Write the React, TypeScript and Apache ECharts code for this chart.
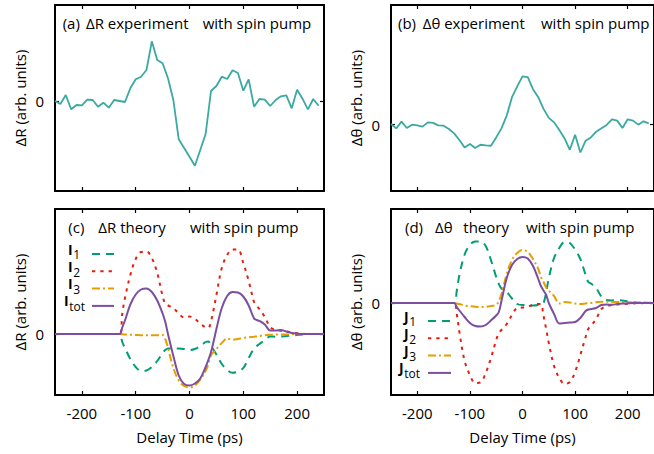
import React, { useEffect, useRef } from "react";
import * as echarts from "echarts";

// ---------- data ----------
const timeExp = [
  -250, -240, -230, -220, -210, -200, -190, -180, -170, -160,
  -150, -140, -130, -120, -110, -100, -90, -80, -70, -60,
  -50, -40, -30, -20, -10, 0, 10, 20, 30, 40,
  50, 60, 70, 80, 90, 100, 110, 120, 130, 140,
  150, 160, 170, 180, 190, 200, 210, 220, 230, 240,
];
const dRExp = [
  0, -0.3, 0.6, -0.83, -0.4, -0.43, 0.13, 0.1, -0.57, -0.17,
  -0.67, 0.1, 0, -0.1, 1.27, 2.17, 2.43, 3.1, 5.97, 4.1,
  3.77, 2.27, 0.1, -3.83, -4.7, -5.57, -6.47, -4.9, -3.3, 1.0,
  1.5, 2.43, 2.2, 3.07, 2.8, 1.03, 2.17, -0.57, 0.2, 0.13,
  -0.5, 0.1, 0.47, 0.57, -0.73, 1.13, 0.23, -0.83, 0.2, -0.47,
];
const dThetaExp = [
  0.07, -0.37, 0.3, -0.33, 0, -0.07, -0.2, 0.23, 0.17, -0.07,
  -0.1, -0.43, -0.87, -1.53, -2.27, -1.93, -2.33, -2.0, -2.07, -2.1,
  -1.27, -0.37, 0.9, 2.73, 3.8, 4.8, 4.73, 3.53, 2.73, 1.57,
  0.67, 0.23, -0.53, -1.37, -2.5, -1.0, -2.77, -1.6, -1.27, -0.7,
  -0.37, -0.03, 0.53, 0.4, -0.33, 0.53, 0.4, 0, 0.33, 0.13,
];

const timeTheory = [
  -250, -200, -150, -130, -125, -120, -110, -100, -90, -80,
  -70, -60, -50, -45, -40, -30, -20, -10, 0, 10,
  20, 30, 35, 40, 45, 50, 60, 70, 80, 90,
  100, 110, 120, 125, 130, 140, 150, 160, 170, 180,
  190, 200, 210, 220, 250,
];
const I1 = [
  0, 0, 0, 0, -0.8, -1.4, -2.5, -3.3, -3.7, -3.65,
  -3.3, -2.7, -1.9, -1.6, -1.45, -1.45, -1.45, -1.5, -1.6, -1.5,
  -1.2, -0.8, -0.75, -1.2, -1.6, -2.05, -3.0, -3.6, -3.87, -3.75,
  -3.4, -2.4, -1.45, -1.2, -1.0, -0.6, -0.25, -0.27, -0.25, -0.2,
  -0.15, -0.1, -0.05, 0, 0,
];
const I2 = [
  0, 0, 0, 0, 2.0, 3.6, 5.9, 7.5, 8.2, 8.25,
  7.6, 6.1, 3.8, 3.0, 2.85, 2.6, 2.05, 1.65, 1.75, 1.5,
  1.05, 0.65, 0.6, 1.3, 2.5, 3.9, 6.6, 7.9, 8.45, 8.45,
  7.1, 5.3, 3.2, 2.8, 2.5, 1.7, 0.7, 0.4, 0.32, 0.25,
  0.15, 0.08, 0.03, 0, 0,
];
const I3 = [
  0, 0, 0, 0, -0.03, -0.05, -0.08, -0.1, -0.12, -0.12,
  -0.12, -0.12, -0.1, -0.5, -1.4, -3.4, -4.65, -5.2, -5.35, -5.15,
  -4.55, -3.7, -3.0, -2.1, -1.8, -1.5, -0.9, -0.45, -0.58, -0.5,
  -0.4, -0.33, -0.27, -0.24, -0.2, -0.12, -0.08, -0.06, -0.05, -0.04,
  -0.03, -0.02, -0.01, 0, 0,
];
const Itot = [
  0, 0, 0, 0, 0.65, 1.35, 2.95, 3.95, 4.45, 4.55,
  4.2, 3.35, 2.05, 1.2, 0.0, -2.2, -4.15, -5.0, -5.15, -4.95,
  -4.45, -3.3, -2.6, -1.8, -0.7, 0.5, 2.6, 3.8, 4.2, 4.15,
  3.75, 2.85, 1.55, 1.4, 1.3, 0.95, 0.35, 0.35, 0.4, 0.25,
  0.1, 0.03, 0, 0, 0,
];
const J1 = [
  0, 0, 0, 0, 1.2, 2.8, 4.85, 5.8, 6.15, 6.15,
  5.7, 4.3, 2.6, 1.9, 1.45, 1.1, 0.45, -0.1, -0.2, -0.2,
  -0.25, -0.2, -0.1, 0.0, 1.1, 2.5, 4.5, 5.5, 6.1, 6.0,
  5.35, 4.4, 2.8, 2.1, 1.95, 1.5, 0.65, 0.3, 0.25, 0.3,
  0.25, 0.15, 0.08, 0.03, 0,
];
const J2 = [
  0, 0, 0, 0, -1.1, -2.9, -5.8, -7.2, -8.0, -7.95,
  -7.0, -5.5, -3.7, -3.0, -2.7, -2.1, -1.2, -0.5, -0.45, -0.35,
  -0.2, -0.1, -0.1, -1.3, -2.6, -4.0, -6.3, -7.5, -8.1, -7.9,
  -6.9, -5.2, -3.4, -2.6, -2.3, -1.6, -0.6, -0.3, -0.2, -0.15,
  -0.1, -0.08, -0.05, -0.02, 0,
];
const J3 = [
  0, 0, 0, 0, -0.05, -0.1, -0.25, -0.32, -0.38, -0.4,
  -0.38, -0.3, -0.2, 0.2, 0.9, 2.9, 4.3, 5.0, 5.3, 5.1,
  4.4, 3.4, 2.6, 2.1, 1.55, 1.25, 0.7, -0.05, 0.1, 0.05,
  -0.05, -0.1, -0.05, -0.02, 0.0, 0.08, 0.12, 0.12, 0.1, 0.1,
  0.08, 0.07, 0.06, 0.05, 0.03,
];
const Jtot = [
  0, 0, 0, 0, -0.4, -0.75, -1.4, -2.0, -2.3, -2.35,
  -2.2, -1.75, -1.25, -0.9, 0.2, 2.5, 3.8, 4.4, 4.6, 4.45,
  3.7, 2.4, 1.7, 1.25, 0.8, 0.0, -1.1, -2.05, -2.0, -1.95,
  -1.9, -1.5, -0.8, -0.65, -0.6, -0.5, -0.2, -0.15, -0.18, -0.1,
  -0.05, -0.03, 0, 0, 0,
];

const xTicks = [-200, -100, 0, 100, 200];
const yTicks = [0];
const legendSubs = ["1", "2", "3", "tot"];

// ---------- styling ----------
const FONT = "'Open Sans', sans-serif";
const TEAL = "#3aa9a0";
const GREEN = "#009e73";
const RED = "#e51e10";
const ORANGE = "#e69f00";
const PURPLE = "#7b4ea0";
const DASH_G = [8, 6];
const DASH_R = [3.3, 5];
const DASH_O = [8, 3, 2, 3];
const ROW = 17.3;

const zip = (xs: number[], ys: number[]) => xs.map((x, i) => [x, ys[i]]);

const grids = [
  { left: 55, top: 5, width: 269, height: 186 },
  { left: 391, top: 5, width: 269, height: 186 },
  { left: 55, top: 209, width: 269, height: 186 },
  { left: 391, top: 209, width: 269, height: 186 },
];
const yRanges = [
  [-9.0, 9.6],
  [-6.6, 11.9],
  [-6.1, 12.5],
  [-9.2, 9.4],
];
const yNames = ["ΔR (arb. units)", "Δθ (arb. units)", "ΔR (arb. units)", "Δθ (arb. units)"];

function makeX(g: number, top: boolean, labels: boolean) {
  return {
    type: "value",
    gridIndex: g,
    min: -250,
    max: 250,
    position: top ? "top" : "bottom",
    axisLine: { show: true, onZero: false, lineStyle: { color: "#000", width: 2 } },
    axisTick: { show: true, inside: true, length: 4, customValues: xTicks, lineStyle: { color: "#000", width: 1.2 } },
    axisLabel: {
      show: labels,
      customValues: xTicks,
      margin: 10,
      fontSize: 15,
      fontFamily: FONT,
      color: "#000",
    },
    splitLine: { show: false },
    name: labels ? "Delay Time (ps)" : "",
    nameLocation: "middle",
    nameGap: 34,
    nameTextStyle: { fontSize: 15, fontFamily: FONT, color: "#000" },
  };
}

function makeY(g: number, right: boolean) {
  return {
    type: "value",
    gridIndex: g,
    min: yRanges[g][0],
    max: yRanges[g][1],
    position: right ? "right" : "left",
    axisLine: { show: true, onZero: false, lineStyle: { color: "#000", width: 2 } },
    axisTick: { show: true, inside: true, length: 4, customValues: yTicks, lineStyle: { color: "#000", width: 1.2 } },
    axisLabel: {
      show: !right,
      customValues: yTicks,
      formatter: (v: number) => (Math.abs(v) < 1e-9 ? "0" : ""),
      margin: 11,
      fontSize: 15,
      fontFamily: FONT,
      color: "#000",
    },
    splitLine: { show: false },
    name: right ? "" : yNames[g],
    nameLocation: "middle",
    nameGap: 28,
    nameTextStyle: { fontSize: 15, fontFamily: FONT, color: "#000" },
  };
}

function lineSeries(name: string, g: number, data: number[][], color: string, dash: any, smooth: boolean) {
  return {
    type: "line",
    name,
    xAxisIndex: 2 * g,
    yAxisIndex: 2 * g,
    data,
    showSymbol: false,
    symbol: "none",
    smooth: smooth ? 0.35 : false,
    lineStyle: { color, width: smooth ? 2 : 1.8, type: dash },
    z: 3,
  };
}

function txt(x: number, y: number, text: string, size = 15) {
  return {
    type: "text",
    x,
    y,
    style: { text, fontSize: size, fontFamily: FONT, fill: "#000", align: "left", verticalAlign: "middle" },
    z: 10,
  };
}

// One multi-line text block per legend (right aligned), plus line samples.
function legendBlock(
  base: string,
  firstLineY: number,
  textRight: number,
  padR: number,
  lx1: number,
  lx2: number,
  colors: string[],
  dashes: any[]
) {
  const text = legendSubs
    .map((s, i) => `{b|${base}}{${i < 3 ? "sp" : "s"}|${s}}`)
    .join("\n");
  const out: any[] = [
    {
      type: "text",
      x: textRight,
      y: firstLineY - 10.3,
      style: {
        text,
        fontFamily: FONT,
        fill: "#000",
        align: "right",
        verticalAlign: "top",
        lineHeight: ROW,
        rich: {
          b: { fontSize: 14, fontWeight: "bold", fontFamily: FONT, fill: "#000", lineHeight: ROW, padding: [0, 0.5, 6.7, 0] },
          s: { fontSize: 12, fontFamily: FONT, fill: "#000", lineHeight: ROW, verticalAlign: "bottom" },
          sp: { fontSize: 12, fontFamily: FONT, fill: "#000", lineHeight: ROW, verticalAlign: "bottom", padding: [0, padR, 0, 0] },
        },
      },
      z: 10,
    },
  ];
  legendSubs.forEach((_, i) => {
    const ly = firstLineY + ROW * i;
    out.push({
      type: "line",
      shape: { x1: lx1, y1: ly, x2: lx2, y2: ly },
      style: { stroke: colors[i], lineWidth: 2, lineDash: dashes[i] },
      z: 10,
    });
  });
  return out;
}

export default function App() {
  const ref = useRef<HTMLDivElement>(null);
  useEffect(() => {
    if (!ref.current) return;
    const chart = echarts.init(ref.current, undefined, { renderer: "svg" });
    const colors = [GREEN, RED, ORANGE, PURPLE];
    const dashes = [DASH_G, DASH_R, DASH_O, null];
    const option: any = {
      animation: false,
      backgroundColor: "#fff",
      grid: grids.map((g) => ({ ...g, show: false, containLabel: false })),
      xAxis: [0, 1, 2, 3].flatMap((g) => [makeX(g, false, g >= 2), makeX(g, true, false)]),
      yAxis: [0, 1, 2, 3].flatMap((g) => [makeY(g, false), makeY(g, true)]),
      series: [
        lineSeries("ΔR experiment", 0, zip(timeExp, dRExp), TEAL, "solid", false),
        lineSeries("Δθ experiment", 1, zip(timeExp, dThetaExp), TEAL, "solid", false),
        lineSeries("I1", 2, zip(timeTheory, I1), GREEN, DASH_G, true),
        lineSeries("I2", 2, zip(timeTheory, I2), RED, DASH_R, true),
        lineSeries("I3", 2, zip(timeTheory, I3), ORANGE, DASH_O, true),
        lineSeries("Itot", 2, zip(timeTheory, Itot), PURPLE, "solid", true),
        lineSeries("J1", 3, zip(timeTheory, J1), GREEN, DASH_G, true),
        lineSeries("J2", 3, zip(timeTheory, J2), RED, DASH_R, true),
        lineSeries("J3", 3, zip(timeTheory, J3), ORANGE, DASH_O, true),
        lineSeries("Jtot", 3, zip(timeTheory, Jtot), PURPLE, "solid", true),
      ],
      graphic: [
        txt(62.7, 22.7, "(a)"),
        txt(86, 22.7, "ΔR experiment"),
        txt(202.7, 22.7, "with spin pump"),
        txt(398, 22.7, "(b)"),
        txt(422.7, 22.7, "Δθ experiment"),
        txt(541, 22.7, "with spin pump"),
        txt(68.3, 226.7, "(c)"),
        txt(98.3, 226.7, "ΔR theory"),
        txt(190, 226.7, "with spin pump"),
        txt(405, 226.7, "(d)"),
        txt(435, 226.7, "Δθ"),
        txt(463.3, 226.7, "theory"),
        txt(526, 226.7, "with spin pump"),
        ...legendBlock("I", 254, 85, 5, 92, 114, colors, dashes),
        ...legendBlock("J", 321, 420, 4, 428, 451, colors, dashes),
      ],
    };
    chart.setOption(option);
    return () => chart.dispose();
  }, []);
  return (
    <div
      ref={ref}
      style={{ position: "absolute", left: 0, top: 0, width: 654, height: 454, background: "#fff" }}
    />
  );
}
